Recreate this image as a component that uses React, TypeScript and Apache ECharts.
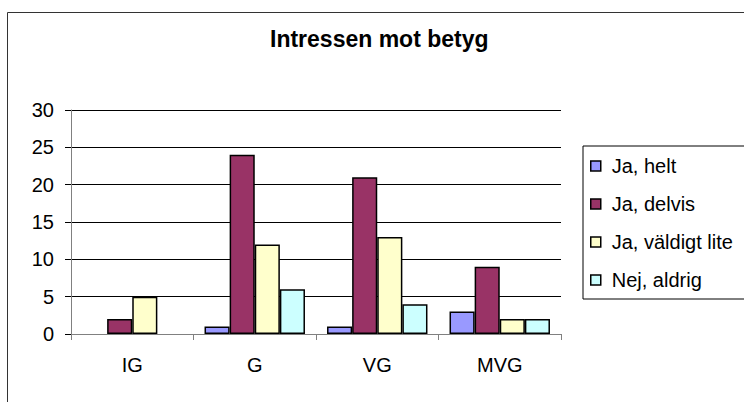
import React, { useEffect, useRef } from "react";
import * as echarts from "echarts";

const categories = ["IG", "G", "VG", "MVG"];
const seriesNames = ["Ja, helt", "Ja, delvis", "Ja, väldigt lite", "Nej, aldrig"];
const jaHelt = [0, 1, 1, 3];
const jaDelvis = [2, 24, 21, 9];
const jaValdigtLite = [5, 12, 13, 2];
const nejAldrig = [0, 6, 4, 2];
const seriesColors = ["#9999FF", "#993366", "#FFFFCC", "#CCFFFF"];
const yMin = 0;
const yMax = 30;
const yInterval = 5;
const titleText = "Intressen mot betyg";

const FONT = "'Liberation Sans', Arial, sans-serif";

export default function App() {
  const ref = useRef<HTMLDivElement>(null);
  useEffect(() => {
    if (!ref.current) return;
    const chart = echarts.init(ref.current, undefined, { renderer: "svg" });
    const values = [jaHelt, jaDelvis, jaValdigtLite, nejAldrig];
    chart.setOption({
      animation: false,
      backgroundColor: "#ffffff",
      textStyle: { fontFamily: FONT },
      title: {
        text: titleText,
        left: 270,
        top: 27,
        padding: 0,
        textStyle: { fontFamily: FONT, fontSize: 23, fontWeight: "bold", color: "#000" },
      },
      graphic: [
        {
          type: "rect",
          shape: { x: 7.5, y: 12.5, width: 900, height: 600 },
          style: { fill: "none", stroke: "#333", lineWidth: 1 },
          z: 100,
          silent: true,
        },
      ],
      legend: {
        orient: "vertical",
        left: 583,
        top: 146,
        padding: [10, 100, 9, 7],
        borderColor: "#000",
        borderWidth: 1,
        itemWidth: 10,
        itemHeight: 10,
        itemGap: 18,
        icon: "rect",
        itemStyle: { borderColor: "#000", borderWidth: 1.5 },
        textStyle: { fontFamily: FONT, fontSize: 20, color: "#000", lineHeight: 20, padding: [0, 0, 0, 6] },
        data: seriesNames,
      },
      grid: { left: 71, top: 110, width: 490, height: 224 },
      xAxis: {
        type: "category",
        data: categories,
        axisLine: { lineStyle: { color: "#808080", width: 1 } },
        axisTick: { show: true, length: 6, lineStyle: { color: "#808080" } },
        axisLabel: { fontFamily: FONT, fontSize: 20, color: "#000", margin: 21 },
      },
      yAxis: {
        type: "value",
        min: yMin,
        max: yMax,
        interval: yInterval,
        axisLine: { show: true, lineStyle: { color: "#808080", width: 1 } },
        axisTick: { show: true, length: 6, lineStyle: { color: "#000" } },
        splitLine: { show: true, lineStyle: { color: "#000", width: 1 } },
        axisLabel: { fontFamily: FONT, fontSize: 20, color: "#000", margin: 17 },
      },
      series: seriesNames.map((name, i) => ({
        name,
        type: "bar",
        data: values[i].map((v) => (v === 0 ? null : v)),
        barGap: "0%",
        barCategoryGap: "18%",
        itemStyle: { color: seriesColors[i], borderColor: "#000", borderWidth: 1.5 },
      })),
    });
    return () => chart.dispose();
  }, []);
  return (
    <div
      ref={ref}
      style={{ position: "fixed", left: 0, top: 0, width: 744, height: 402 }}
    />
  );
}
